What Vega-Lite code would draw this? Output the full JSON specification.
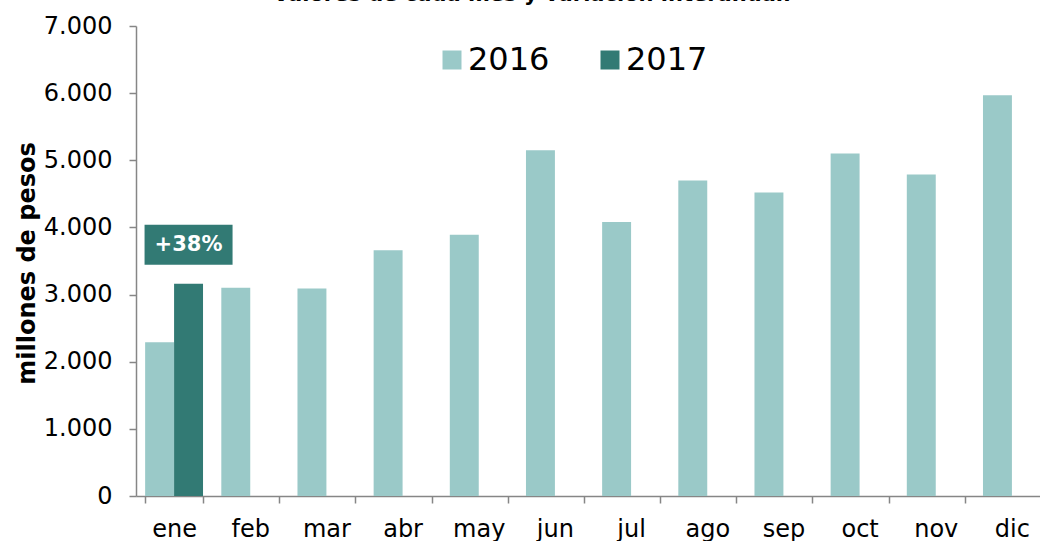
{
  "$schema": "https://vega.github.io/schema/vega-lite/v6.json",
  "autosize": "none",
  "width": 904,
  "height": 470,
  "padding": {"left": 136, "top": 26, "right": 0, "bottom": 45},
  "background": "white",
  "config": {"view": {"stroke": null}},
  "title": {
    "text": "Valores de cada mes y variación interanual.",
    "font": "DejaVu Sans",
    "fontSize": 21,
    "fontWeight": "bold",
    "color": "black",
    "anchor": "middle",
    "baseline": "alphabetic",
    "offset": 0,
    "dx": -56,
    "dy": 8
  },
  "data": {
    "values": [
      {"mes": "ene", "anio": "2016", "valor": 2290, "var": ""},
      {"mes": "ene", "anio": "2017", "valor": 3160, "var": "+38%"},
      {"mes": "feb", "anio": "2016", "valor": 3100, "var": ""},
      {"mes": "mar", "anio": "2016", "valor": 3090, "var": ""},
      {"mes": "abr", "anio": "2016", "valor": 3660, "var": ""},
      {"mes": "may", "anio": "2016", "valor": 3890, "var": ""},
      {"mes": "jun", "anio": "2016", "valor": 5150, "var": ""},
      {"mes": "jul", "anio": "2016", "valor": 4080, "var": ""},
      {"mes": "ago", "anio": "2016", "valor": 4700, "var": ""},
      {"mes": "sep", "anio": "2016", "valor": 4520, "var": ""},
      {"mes": "oct", "anio": "2016", "valor": 5100, "var": ""},
      {"mes": "nov", "anio": "2016", "valor": 4790, "var": ""},
      {"mes": "dic", "anio": "2016", "valor": 5970, "var": ""}
    ]
  },
  "encoding": {
    "x": {
      "field": "mes",
      "type": "nominal",
      "sort": ["ene","feb","mar","abr","may","jun","jul","ago","sep","oct","nov","dic"],
      "scale": {"domain": ["ene","feb","mar","abr","may","jun","jul","ago","sep","oct","nov","dic"], "range": [0, 914], "paddingInner": 0.24, "paddingOuter": 0.12},
      "axis": {
        "title": null,
        "labelAngle": 0,
        "labelFont": "DejaVu Sans",
        "labelFontSize": 24,
        "labelColor": "black",
        "labelBaseline": "alphabetic",
        "labelPadding": 33,
        "tickSize": 7,
        "tickBand": "extent",
        "tickColor": "#868686",
        "domainColor": "#868686",
        "tickWidth": 1.5,
        "domainWidth": 1.5,
        "grid": false
      }
    },
    "xOffset": {"field": "anio", "type": "nominal", "scale": {"domain": ["2016","2017"]}},
    "y": {
      "field": "valor",
      "type": "quantitative",
      "scale": {"domain": [0, 7000], "nice": false},
      "axis": {
        "title": "millones de pesos",
        "titleFont": "DejaVu Sans",
        "titleFontSize": 24,
        "titleFontWeight": "bold",
        "titleColor": "black",
        "titleAngle": -90,
        "titleBaseline": "alphabetic",
        "titleAlign": "center",
        "titleX": -102,
        "titleY": 237,
        "values": [0,1000,2000,3000,4000,5000,6000,7000],
        "labelExpr": "replace(format(datum.value, ','), ',', '.')",
        "labelFont": "DejaVu Sans",
        "labelFontSize": 24,
        "labelColor": "black",
        "labelPadding": 17,
        "tickSize": 7,
        "tickColor": "#868686",
        "domainColor": "#868686",
        "tickWidth": 1.5,
        "domainWidth": 1.5,
        "grid": false
      }
    }
  },
  "layer": [
    {
      "mark": {"type": "bar"},
      "encoding": {
        "color": {
          "field": "anio",
          "type": "nominal",
          "scale": {"domain": ["2016","2017"], "range": ["#9AC9C8","#327A74"]},
          "legend": {
            "title": null,
            "orient": "none",
            "direction": "horizontal",
            "legendX": 300,
            "legendY": 18,
            "padding": 0,
            "columnPadding": 44,
            "labelOffset": 0,
            "labelFont": "DejaVu Sans",
            "labelFontSize": 32,
            "labelColor": "black",
            "symbolType": "square",
            "symbolSize": 361,
            "symbolStrokeWidth": 0,
            "symbolOpacity": 1
          }
        }
      }
    },
    {
      "transform": [{"filter": "datum.anio == '2017'"}],
      "mark": {
        "type": "point",
        "shape": "M-1,-0.4545L1,-0.4545L1,0.4545L-1,0.4545Z",
        "size": 7744,
        "filled": true,
        "fill": "#327A74",
        "opacity": 1,
        "strokeWidth": 0,
        "yOffset": -39
      }
    },
    {
      "transform": [{"filter": "datum.anio == '2017'"}],
      "mark": {
        "type": "text",
        "font": "DejaVu Sans",
        "fontSize": 21,
        "fontWeight": "bold",
        "color": "white",
        "align": "center",
        "baseline": "middle",
        "yOffset": -39
      },
      "encoding": {"text": {"field": "var"}}
    }
  ]
}
